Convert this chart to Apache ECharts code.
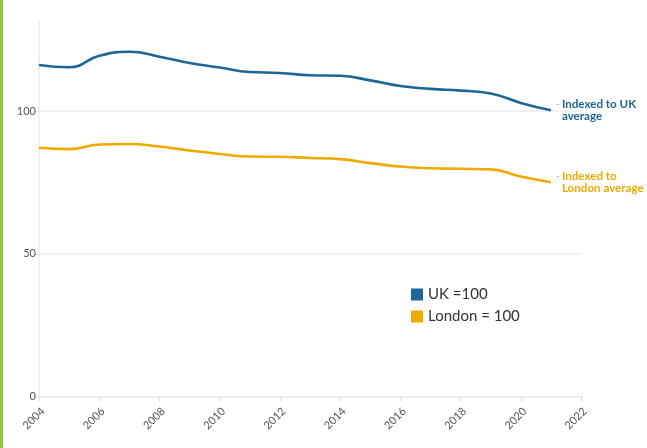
<!DOCTYPE html>
<html>
<head>
<meta charset="utf-8">
<script src="https://cdn.jsdelivr.net/npm/echarts@6/dist/echarts.min.js"></script>
<style>
  html, body { margin: 0; padding: 0; background: #fff; }
  #chart { width: 647px; height: 448px; }
</style>
</head>
<body>
<div id="chart"></div>
<script>
// Years on the x axis
const years = [2004, 2005, 2006, 2007, 2008, 2009, 2010, 2011, 2012,
               2013, 2014, 2015, 2016, 2017, 2018, 2019, 2020, 2021];

// Index relative to the UK average (UK = 100)
const ukIndex = [116.2, 115.4, 119.4, 120.8, 119.1, 116.9, 115.3, 113.7, 113.4,
                 112.6, 112.4, 110.8, 108.8, 107.8, 107.2, 106.2, 102.9, 100.3];

// Index relative to the London average (London = 100)
const londonIndex = [87.2, 86.7, 88.3, 88.5, 87.6, 86.2, 85.0, 84.1, 84.0,
                     83.6, 83.2, 81.8, 80.6, 80.0, 79.8, 79.6, 77.1, 75.1];

const yTicks = [0, 50, 100];
const xTicks = [2004, 2006, 2008, 2010, 2012, 2014, 2016, 2018, 2020, 2022];

const blue = '#1d6797';
const gold = '#efaa00';

const pairs = (vals) => years.map((y, i) => [y, vals[i]]);

const chart = echarts.init(document.getElementById('chart'), null, { renderer: 'canvas' });

const endLabelRich = (color) => ({
  d: { color: '#999', fontSize: 9, width: 6, fontFamily: 'Lato' },
  p: { width: 6 },
  t: { color: color, fontSize: 11.6, fontWeight: 'bold', fontFamily: 'Lato', lineHeight: 12 }
});

chart.setOption({
  animation: false,
  graphic: [{
    type: 'rect',
    left: 0, top: 0,
    shape: { width: 3, height: 448 },
    style: { fill: '#8cc63f' }
  }],
  grid: { left: 39, right: 66, top: 21, bottom: 51.5, containLabel: false },
  legend: {
    orient: 'vertical',
    left: 411, top: 287,
    padding: 0,
    itemWidth: 12, itemHeight: 12, itemGap: 7,
    icon: 'rect',
    textStyle: { color: '#333', fontSize: 15, fontFamily: 'Lato' },
    data: ['UK =100', 'London = 100']
  },
  xAxis: {
    type: 'value',
    min: 2004, max: 2022, interval: 2,
    axisLine: { show: true, lineStyle: { color: '#ececec', width: 1.5 } },
    axisTick: { show: true, length: 5, lineStyle: { color: '#ddd' }, customValues: xTicks },
    axisLabel: {
      customValues: xTicks,
      rotate: 45, color: '#555', fontSize: 11, fontFamily: 'Lato', margin: 9,
      align: 'right', verticalAlign: 'top',
      formatter: (v) => String(v)
    },
    splitLine: { show: false }
  },
  yAxis: {
    type: 'value',
    min: 0, max: 131.6,
    axisLine: { show: true, lineStyle: { color: '#ececec', width: 1.5 } },
    axisTick: { show: true, length: 6, lineStyle: { color: '#e5e5e5' }, customValues: yTicks },
    axisLabel: { customValues: yTicks, color: '#555', fontSize: 11, fontFamily: 'Lato', margin: 3 },
    splitLine: { show: false }
  },
  series: [
    {
      name: 'UK =100',
      type: 'line',
      data: pairs(ukIndex),
      smooth: 0.5,
      showSymbol: false,
      lineStyle: { color: blue, width: 2.6 },
      itemStyle: { color: blue },
      z: 3,
      endLabel: {
        show: true,
        distance: 5,
        formatter: () => '{d|-}{t|Indexed to UK}\n{p|}{t|average}',
        rich: endLabelRich(blue)
      },
      markLine: {
        silent: true,
        symbol: 'none',
        label: { show: false },
        lineStyle: { color: '#ececec', width: 1.5, type: 'solid' },
        data: yTicks.map(v => ({ yAxis: v })),
        z: 1
      }
    },
    {
      name: 'London = 100',
      type: 'line',
      data: pairs(londonIndex),
      smooth: 0.5,
      showSymbol: false,
      lineStyle: { color: gold, width: 2.6 },
      itemStyle: { color: gold },
      z: 3,
      endLabel: {
        show: true,
        distance: 5,
        formatter: () => '{d|-}{t|Indexed to}\n{p|}{t|London average}',
        rich: endLabelRich(gold)
      }
    }
  ]
});
</script>
</body>
</html>
